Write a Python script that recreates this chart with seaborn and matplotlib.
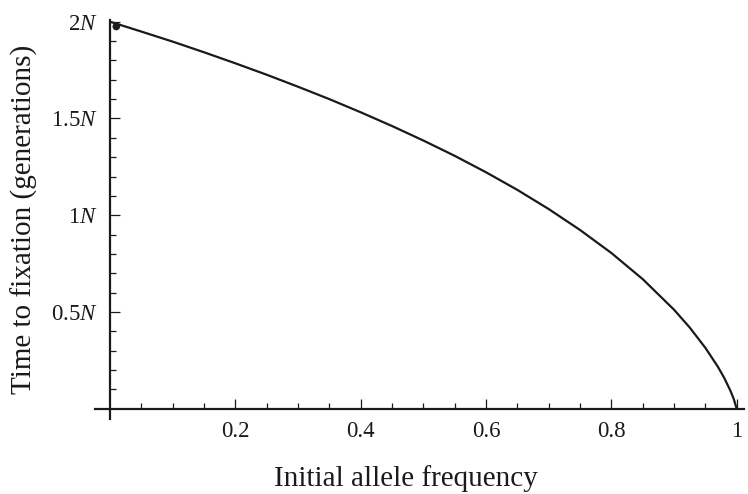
import numpy as np
import seaborn as sns
import matplotlib.pyplot as plt
from matplotlib.ticker import FixedLocator

# values (time in units of N)
freq = [0.0, 0.05, 0.1, 0.15, 0.2, 0.25, 0.3, 0.35, 0.4, 0.45, 0.5, 0.55,
        0.6, 0.65, 0.7, 0.75, 0.8, 0.85, 0.9, 0.925, 0.95, 0.97, 0.98,
        0.99, 0.995, 1.0]
time_n = [2.0, 1.949, 1.897, 1.842, 1.785, 1.726, 1.664, 1.600, 1.532,
          1.461, 1.386, 1.307, 1.222, 1.131, 1.032, 0.924, 0.805, 0.670,
          0.512, 0.420, 0.315, 0.217, 0.160, 0.093, 0.053, 0.0]
dot_x = [0.01]
dot_y = [1.975]

x_major = [0.2, 0.4, 0.6, 0.8, 1.0]
x_labels = ['0.2', '0.4', '0.6', '0.8', '1']
y_major = [0.5, 1.0, 1.5, 2.0]
y_labels = ['0.5$N$', '1$N$', '1.5$N$', '2$N$']

sns.set_style('ticks')
plt.rcParams['font.family'] = ['Liberation Serif', 'DejaVu Serif']
plt.rcParams['mathtext.fontset'] = 'custom'
plt.rcParams['mathtext.rm'] = 'Liberation Serif'
plt.rcParams['mathtext.it'] = 'Liberation Serif:italic'

fig = plt.figure(figsize=(7.48, 4.94), dpi=100)
ax = fig.add_axes([0.127, 0.152, 0.868, 0.808])

ink = '#1a1a1a'
sns.lineplot(x=freq, y=time_n, ax=ax, color=ink, lw=1.6)
sns.scatterplot(x=dot_x, y=dot_y, ax=ax, color=ink, s=30, edgecolor='none', zorder=5)

ax.set_xlim(-0.024, 1.012)
ax.set_ylim(-0.052, 2.01)

for side in ['top', 'right']:
    ax.spines[side].set_visible(False)
ax.spines['left'].set_position(('data', 0))
ax.spines['bottom'].set_position(('data', 0))
for side in ['left', 'bottom']:
    ax.spines[side].set_linewidth(1.6)
    ax.spines[side].set_color(ink)

ax.xaxis.set_major_locator(FixedLocator(x_major))
ax.xaxis.set_minor_locator(FixedLocator([i * 0.05 for i in range(1, 20) if i % 4]))
ax.yaxis.set_major_locator(FixedLocator(y_major))
ax.yaxis.set_minor_locator(FixedLocator([i * 0.1 for i in range(1, 20) if i % 5]))
ax.set_xticklabels(x_labels)
ax.set_yticklabels(y_labels)

ax.tick_params(which='both', direction='in', width=0.9, color=ink, labelsize=16.5, labelcolor=ink)
ax.tick_params(which='major', length=7.5)
ax.tick_params(which='minor', length=4.5)
ax.tick_params(axis='x', pad=9)
ax.tick_params(axis='y', pad=9)

ax.set_xlabel('Initial allele frequency', fontsize=21, color=ink)
ax.set_ylabel('Time to fixation (generations)', fontsize=21, color=ink)
ax.xaxis.set_label_coords(0.479, -0.115)
ax.yaxis.set_label_coords(-0.088, 0.5)

fig.savefig('out.png', dpi=100)
